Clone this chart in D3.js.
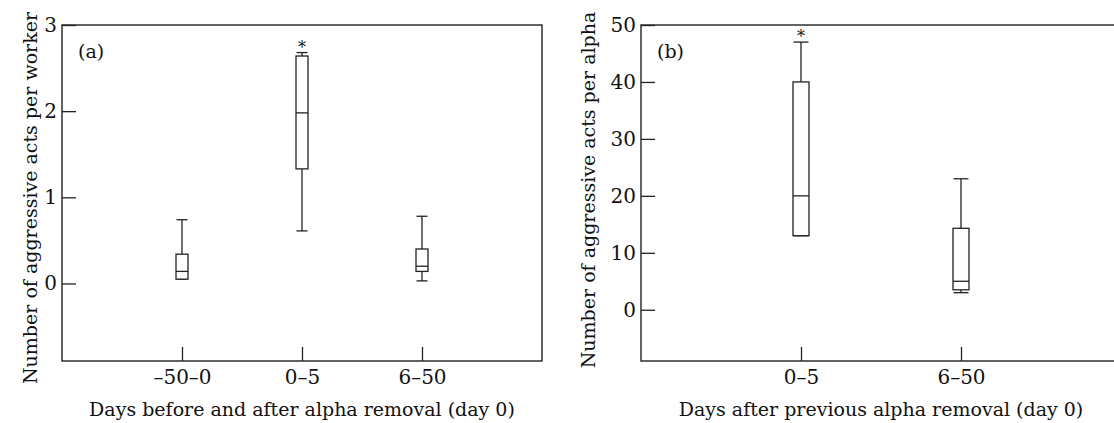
<!DOCTYPE html>
<html>
<head>
<meta charset="utf-8">
<script src="https://cdn.jsdelivr.net/npm/d3@7"></script>
<style>
  body { margin: 0; background: #fff; }
  svg { display: block; font-family: "DejaVu Serif", "Liberation Serif", serif; }
</style>
</head>
<body>
<svg id="chart" width="1114" height="423"></svg>
<script>
// panel (a): aggressive acts per worker
const catsA = ["\u201350\u20130", "0\u20135", "6\u201350"];
const statsA = [
  { lo: 0.05, q1: 0.05, med: 0.14, q3: 0.34, hi: 0.74, star: false },
  { lo: 0.61, q1: 1.33, med: 1.98, q3: 2.64, hi: 2.68, star: true },
  { lo: 0.03, q1: 0.14, med: 0.20, q3: 0.40, hi: 0.78, star: false }
];
const yTicksA = [0, 1, 2, 3];

// panel (b): aggressive acts per alpha
const catsB = ["0\u20135", "6\u201350"];
const statsB = [
  { lo: 13, q1: 13, med: 20, q3: 40, hi: 47, star: true },
  { lo: 3, q1: 3.5, med: 5, q3: 14.3, hi: 23, star: false }
];
const yTicksB = [0, 10, 20, 30, 40, 50];

const ink = "#222";
const fontSize = "19px";
const svg = d3.select("#chart");

const panels = [
  { left: 62, cats: catsA, stats: statsA, yDomain: [-0.9, 3], yTicks: yTicksA, boxW: 12,
    tag: "(a)", yTitle: "Number of aggressive acts per worker", yTitleX: -25, yTitleY: 198,
    xTitle: "Days before and after alpha removal (day 0)" },
  { left: 641, cats: catsB, stats: statsB, yDomain: [-9, 50], yTicks: yTicksB, boxW: 16,
    tag: "(b)", yTitle: "Number of aggressive acts per alpha", yTitleX: -46, yTitleY: 190,
    xTitle: "Days after previous alpha removal (day 0)" }
];

const plotTop = 25, plotBottom = 361, w = 480, h = plotBottom - plotTop;

panels.forEach(p => {
  const g = svg.append("g").attr("transform", `translate(${p.left},${plotTop})`);

  const x = d3.scaleLinear().domain([0, p.cats.length + 1]).range([0, w]);
  const y = d3.scaleLinear().domain(p.yDomain).range([h, 0]);

  g.append("rect")
    .attr("width", w).attr("height", h)
    .attr("fill", "none").attr("stroke", ink).attr("stroke-width", 1.4);

  const yAxis = g.append("g")
    .call(d3.axisLeft(y).tickValues(p.yTicks).tickFormat(d3.format("d"))
      .tickSizeInner(-14).tickSizeOuter(0).tickPadding(5));
  const xAxis = g.append("g")
    .attr("transform", `translate(0,${h})`)
    .call(d3.axisBottom(x).tickValues(d3.range(1, p.cats.length + 1))
      .tickFormat(d => p.cats[d - 1])
      .tickSizeInner(-14).tickSizeOuter(0).tickPadding(9));

  [yAxis, xAxis].forEach(a => {
    a.select(".domain").remove();
    a.selectAll("line").attr("stroke", ink).attr("stroke-width", 1.3);
    a.selectAll("text").attr("fill", "#111").style("font-size", "20px")
      .style("font-family", "DejaVu Serif, serif");
  });

  const boxes = g.selectAll(".box").data(p.stats).enter().append("g")
    .attr("transform", (d, i) => `translate(${x(i + 1)},0)`);
  const bw = p.boxW;

  boxes.append("line")
    .attr("y1", d => y(d.q3)).attr("y2", d => y(d.hi))
    .attr("stroke", ink).attr("stroke-width", 1.3);
  boxes.append("line")
    .attr("y1", d => y(d.q1)).attr("y2", d => y(d.lo))
    .attr("stroke", ink).attr("stroke-width", 1.3);
  boxes.append("line")
    .attr("x1", -bw / 2 + 0.5).attr("x2", bw / 2 - 0.5)
    .attr("y1", d => y(d.hi)).attr("y2", d => y(d.hi))
    .attr("stroke", ink).attr("stroke-width", 1.3);
  boxes.append("line")
    .attr("x1", -bw / 2 + 0.5).attr("x2", bw / 2 - 0.5)
    .attr("y1", d => y(d.lo)).attr("y2", d => y(d.lo))
    .attr("stroke", ink).attr("stroke-width", 1.3);
  boxes.append("rect")
    .attr("x", -bw / 2).attr("width", bw)
    .attr("y", d => y(d.q3)).attr("height", d => y(d.q1) - y(d.q3))
    .attr("fill", "#fff").attr("stroke", ink).attr("stroke-width", 1.3);
  boxes.append("line")
    .attr("x1", -bw / 2).attr("x2", bw / 2)
    .attr("y1", d => y(d.med)).attr("y2", d => y(d.med))
    .attr("stroke", ink).attr("stroke-width", 1.3);
  boxes.filter(d => d.star).append("text")
    .attr("y", d => y(d.hi) + 0)
    .attr("text-anchor", "middle")
    .style("font-size", "16px").attr("fill", "#111")
    .text("*");

  g.append("text")
    .attr("x", 16).attr("y", 33)
    .style("font-size", fontSize).attr("fill", "#111")
    .text(p.tag);

  g.append("text")
    .attr("x", w / 2).attr("y", 416 - plotTop)
    .attr("text-anchor", "middle")
    .style("font-size", fontSize).attr("fill", "#111")
    .text(p.xTitle);

  g.append("text")
    .attr("transform", `translate(${p.yTitleX},${p.yTitleY - plotTop}) rotate(-90)`)
    .attr("text-anchor", "middle")
    .style("font-size", fontSize).attr("fill", "#111")
    .text(p.yTitle);
});
</script>
</body>
</html>
